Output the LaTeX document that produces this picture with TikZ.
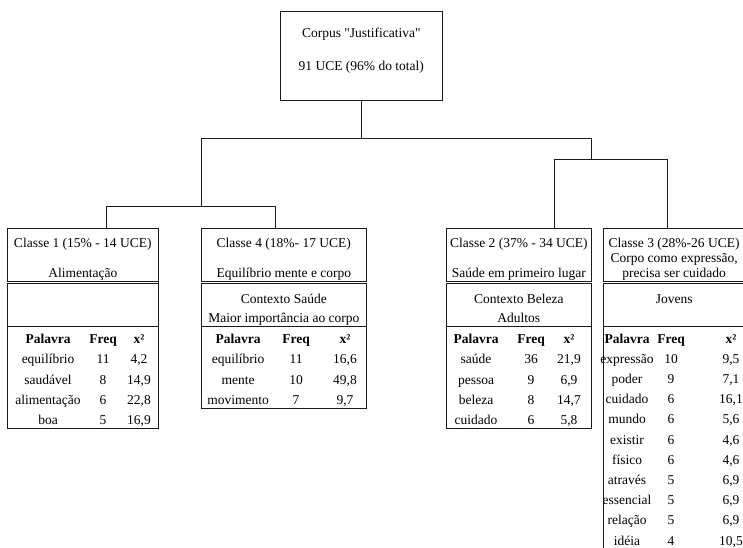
\documentclass[tikz,border=0pt]{standalone}
\usepackage{fontspec}
\setmainfont{Liberation Serif}
\usepackage{array}
\setlength{\tabcolsep}{0pt}
\newcolumntype{M}[1]{>{\hbox to #1\bgroup\hss}c<{\hss\egroup}}
\definecolor{linhaColor}{HTML}{1A1A1A}
\tikzset{
	caixa/.style={draw=linhaColor, line width=0.8pt, inner sep=0, outer sep=0},
	texto/.style={inner sep=0, outer sep=0, font=\fontsize{13.5}{15.25}\selectfont},
	sep/.style={draw=linhaColor, line width=0.8pt},
	sepdupla/.style={draw=linhaColor, double, double distance=1.4pt, line width=0.6pt},
	ramo/.style={draw=linhaColor, line width=0.8pt}
}
\begin{document}
\begin{tikzpicture}[x=1pt, y=-1pt]
	\useasboundingbox (0,0) rectangle (743,547);
	\clip (0,0) rectangle (743,547);
	% raiz
	\node[caixa, minimum width=162.7, minimum height=88.3] (root) at (361.35,55.85) {};
	\node[texto, anchor=base] (root_t) at (root.north |- 0,37) {\begin{tabular}[t]{c} Corpus \textquotedbl Justificativa\textquotedbl \\[17.75pt] 91 UCE (96\% do total)\end{tabular}};
	% classes
	\node[caixa, minimum width=151, minimum height=200] (c1) at (82.8,328.3) {};
	\node[caixa, minimum width=165.7, minimum height=180] (c4) at (283.85,318.3) {};
	\node[caixa, minimum width=145.7, minimum height=200] (c2) at (518.85,328.3) {};
	\node[caixa, minimum width=141.7, minimum height=331.4] (c3) at (674.15,394) {};
	\foreach \c in {c1,c4,c2,c3} {
		\draw[sepdupla] (\c.west |- 0,282.5) -- (\c.east |- 0,282.5);
		\draw[sep] (\c.west |- 0,326) -- (\c.east |- 0,326);
	}
	\node[texto, anchor=base] (c1_t) at (c1.north |- 0,247) {\begin{tabular}[t]{c} Classe 1 (15\% - 14 UCE)\\ \\ Alimentação\end{tabular}};
	\node[texto, anchor=base] (c4_t) at (c4.north |- 0,247) {\begin{tabular}[t]{c} Classe 4 (18\%- 17 UCE)\\ \\ Equilíbrio mente e corpo\end{tabular}};
	\node[texto, anchor=base] (c2_t) at (c2.north |- 0,247) {\begin{tabular}[t]{c} Classe 2 (37\% - 34 UCE)\\ \\ Saúde em primeiro lugar\end{tabular}};
	\node[texto, anchor=base] (c3_t) at (c3.north |- 0,247) {\begin{tabular}[t]{c} Classe 3 (28\%-26 UCE)\\ Corpo como expressão,\\ precisa ser cuidado\end{tabular}};
	\node[texto, anchor=base] (c4_ctx) at (c4.north |- 0,303) {\renewcommand{\arraystretch}{1.31}\begin{tabular}[t]{c} Contexto Saúde\\ Maior importância ao corpo\end{tabular}};
	\node[texto, anchor=base] (c2_ctx) at (c2.north |- 0,303) {\renewcommand{\arraystretch}{1.31}\begin{tabular}[t]{c} Contexto Beleza\\ Adultos\end{tabular}};
	\node[texto, anchor=base] (c3_ctx) at (c3.north |- 0,303) {Jovens};
	% tabelas
	\node[texto, anchor=base west] (c1_tab) at (8,343) {\renewcommand{\arraystretch}{1.344}\begin{tabular}[t]{M{80pt}M{30pt}M{42pt}}
			\textbf{Palavra} & \textbf{Freq} & \textbf{x²}\\
			equilíbrio & 11 & 4,2\\
			saudável & 8 & 14,9\\
			alimentação & 6 & 22,8\\
			boa & 5 & 16,9
		\end{tabular}};
	\node[texto, anchor=base west] (c4_tab) at (198,343) {\renewcommand{\arraystretch}{1.344}\begin{tabular}[t]{M{80pt}M{36pt}M{62pt}}
			\textbf{Palavra} & \textbf{Freq} & \textbf{x²}\\
			equilíbrio & 11 & 16,6\\
			mente & 10 & 49,8\\
			movimento & 7 & 9,7
		\end{tabular}};
	\node[texto, anchor=base west] (c2_tab) at (436,343) {\renewcommand{\arraystretch}{1.344}\begin{tabular}[t]{M{80pt}M{30pt}M{46pt}}
			\textbf{Palavra} & \textbf{Freq} & \textbf{x²}\\
			saúde & 36 & 21,9\\
			pessoa & 9 & 6,9\\
			beleza & 8 & 14,7\\
			cuidado & 6 & 5,8
		\end{tabular}};
	\node[texto, anchor=base west] (c3_tab) at (595,343) {\renewcommand{\arraystretch}{1.325}\begin{tabular}[t]{M{64pt}M{24pt}M{96pt}}
			\textbf{Palavra} & \textbf{Freq} & \textbf{x²}\\
			expressão & 10 & 9,5\\
			poder & 9 & 7,1\\
			cuidado & 6 & 16,1\\
			mundo & 6 & 5,6\\
			existir & 6 & 4,6\\
			físico & 6 & 4,6\\
			através & 5 & 6,9\\
			essencial & 5 & 6,9\\
			relação & 5 & 6,9\\
			idéia & 4 & 10,5
		\end{tabular}};
	% ramos
	\coordinate (j0) at ([yshift=-38.3pt]root.south);
	\coordinate (n14) at (201.7,206.7);
	\coordinate (n23) at (591,159.3);
	\draw[ramo] (root.south) -- (j0);
	\draw[ramo] (n14) |- (j0) -| (n23);
	\draw[ramo] ([xshift=99.4pt]c1.north west) |- (n14) -| ([xshift=74.4pt]c4.north west);
	\draw[ramo] ([xshift=108.6pt]c2.north west) |- (n23) -| ([xshift=63.7pt]c3.north west);
\end{tikzpicture}
\end{document}
